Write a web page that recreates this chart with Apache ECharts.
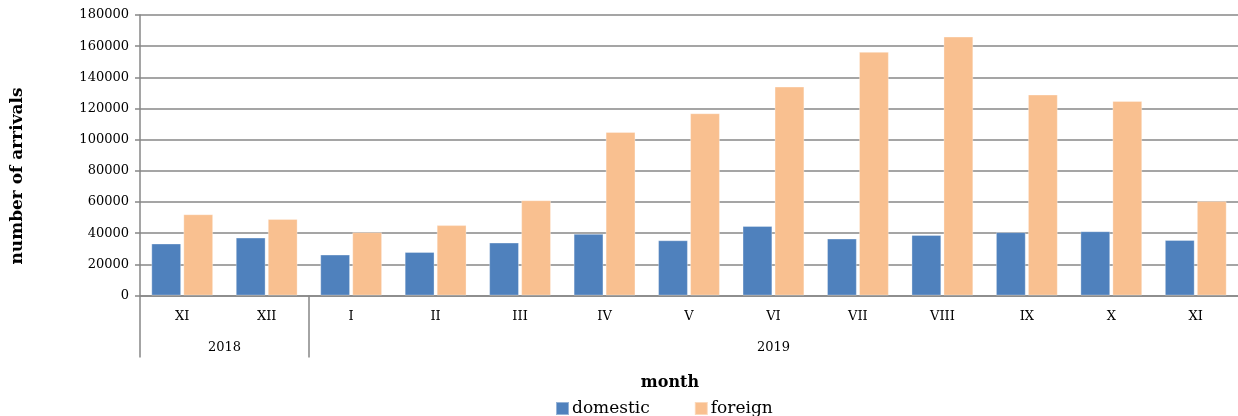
<!DOCTYPE html>
<html>
<head>
<meta charset="utf-8">
<script src="https://cdn.jsdelivr.net/npm/echarts@6/dist/echarts.min.js"></script>
<style>
html,body{margin:0;padding:0;background:#fff;overflow:hidden;}
#chart{width:1238px;height:416px;}
</style>
</head>
<body>
<div id="chart"></div>
<script>
const months = ['XI','XII','I','II','III','IV','V','VI','VII','VIII','IX','X','XI'];
const yearLabels = ['2018','2019'];
const yearSpans = [2, 11];
const domestic = [33300, 37100, 26200, 27900, 33900, 39500, 35400, 44600, 36500, 38800, 40600, 41200, 35600];
const foreign = [52100, 49100, 40600, 45100, 61100, 104900, 116900, 134000, 156300, 166100, 128900, 124800, 60500];
const yTicks = {min: 0, max: 180000, interval: 20000};

const FONT = 'DejaVu Serif';
const GRAY = '#878787';

const yearBounds = [];
const yearCenters = [];
let start = 0;
yearLabels.forEach((y, i) => {
  yearBounds.push(start);
  yearCenters.push(start + yearSpans[i] / 2);
  start += yearSpans[i];
});

const chart = echarts.init(document.getElementById('chart'), null, {renderer: 'canvas'});
chart.setOption({
  animation: false,
  backgroundColor: '#fff',
  textStyle: {fontFamily: FONT},
  grid: {left: 140, right: 0, top: 15, bottom: 120.5, containLabel: false, outerBoundsMode: 'none'},
  legend: {
    data: ['domestic', 'foreign'],
    left: 550, top: 395,
    itemWidth: 13, itemHeight: 13, itemGap: 44,
    icon: 'rect',
    textStyle: {fontFamily: FONT, fontSize: 17, color: '#000', padding: [0, 0, 0, -2]}
  },
  xAxis: [
    {
      type: 'category', data: months, position: 'bottom',
      axisLine: {show: true, lineStyle: {color: GRAY, width: 1.5}},
      axisTick: {show: false},
      axisLabel: {fontFamily: FONT, fontSize: 13, color: '#000', margin: 15, interval: 0}
    },
    {
      type: 'value', position: 'bottom', min: 0, max: months.length,
      axisLine: {show: false},
      splitLine: {show: false},
      axisTick: {show: true, length: 62, customValues: yearBounds, lineStyle: {color: GRAY, width: 1.5}},
      axisLabel: {fontFamily: FONT, fontSize: 13, color: '#000', margin: 46,
        customValues: yearCenters,
        formatter: (v) => {
          const i = yearCenters.indexOf(v);
          return i >= 0 ? yearLabels[i] : '';
        }}
    }
  ],
  yAxis: {
    type: 'value', min: yTicks.min, max: yTicks.max, interval: yTicks.interval,
    axisLine: {show: true, lineStyle: {color: GRAY, width: 1.5}},
    axisTick: {show: true, length: 5, lineStyle: {color: GRAY, width: 1.5}},
    splitLine: {show: true, lineStyle: {color: GRAY, width: 1.5}},
    axisLabel: {fontFamily: FONT, fontSize: 13, color: '#000', margin: 11,
      formatter: (v) => String(v)}
  },
  series: [
    {name: 'domestic', type: 'bar', data: domestic, xAxisIndex: 0,
     barCategoryGap: '27%', barGap: '8%',
     itemStyle: {color: '#4F81BD', borderColor: 'rgba(255,255,255,0.4)', borderWidth: 0.8}},
    {name: 'foreign', type: 'bar', data: foreign, xAxisIndex: 0,
     barCategoryGap: '27%', barGap: '8%',
     itemStyle: {color: '#F9C090', borderColor: 'rgba(255,255,255,0.4)', borderWidth: 0.8}}
  ],
  graphic: [
    {type: 'text', x: 18, y: 176, rotation: Math.PI / 2,
     style: {text: 'number of arrivals', font: 'bold 17px "DejaVu Serif"', fill: '#000',
             align: 'center', verticalAlign: 'middle'}},
    {type: 'text', x: 670, y: 383,
     style: {text: 'month', font: 'bold 16px "DejaVu Serif"', fill: '#000',
             align: 'center', verticalAlign: 'middle'}}
  ]
});
</script>
</body>
</html>
